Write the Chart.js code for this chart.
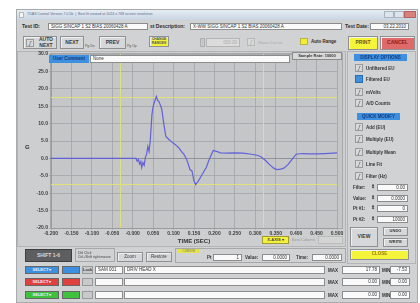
<!DOCTYPE html>
<html>
<head>
<meta charset="utf-8">
<script src="https://cdn.jsdelivr.net/npm/chart.js@4.4.0/dist/chart.umd.min.js"></script>
<style>
body{margin:0;width:420px;height:303px;background:#fff;position:relative;overflow:hidden;font-family:"Liberation Sans",Arial,sans-serif;}
.lbl{position:absolute;font-size:5px;font-weight:bold;color:#2e2e2e;white-space:nowrap;line-height:1;}
.inp{position:absolute;background:#fafafa;border:1px solid #8c8c8c;box-sizing:border-box;font-size:4.5px;color:#333;line-height:5px;padding:0 2px;white-space:nowrap;overflow:hidden;}
.btn{position:absolute;background:#d6d7d8;border:1px solid #8f9093;box-shadow:inset 1px 1px 0 #f0f0f0;box-sizing:border-box;font-size:5px;font-weight:bold;color:#3a3a3a;display:flex;align-items:center;justify-content:center;text-align:center;line-height:1.1;white-space:nowrap;}
.chk{position:absolute;width:8px;height:8px;background:#d9d9d9;border:1px solid #9a9a9a;box-sizing:border-box;font-size:6px;line-height:6px;text-align:center;color:#555;font-style:italic;}
.opt{position:absolute;font-size:4.5px;font-weight:bold;color:#333;white-space:nowrap;}
.hdr{position:absolute;background:#3d90e0;color:#153a7c;font-size:4.5px;font-weight:bold;text-align:center;line-height:7px;height:7px;}
.sel{position:absolute;height:8px;border:1px solid #666;box-sizing:border-box;font-size:4px;font-weight:bold;color:#eef;line-height:6px;text-align:center;}
</style>
</head>
<body>
<!-- window frame -->
<div style="position:absolute;left:16px;top:9px;width:402px;height:294px;background:#d1d2d3;border:1px solid #a9aaac;box-sizing:border-box;"></div>
<div style="position:absolute;left:17px;top:10px;width:400px;height:10px;background:linear-gradient(#e6ecf3,#c9d5e3);"></div>
<div style="position:absolute;left:19px;top:12px;width:5px;height:6px;background:#f4f4f4;border:1px solid #b8b8b8;box-sizing:border-box;"></div>
<div class="lbl" style="left:27px;top:13px;font-size:3.6px;font-weight:normal;color:#5b6f8e;">TDAS Control Version 7.0.5b &nbsp;|&nbsp; Best fit viewed at 1024 x 768 screen resolution</div>
<div style="position:absolute;left:384px;top:11px;width:10px;height:7px;background:#dde4ec;border:1px solid #aab4c0;box-sizing:border-box;"></div>
<div style="position:absolute;left:394px;top:11px;width:10px;height:7px;background:#dde4ec;border:1px solid #aab4c0;box-sizing:border-box;"></div>
<div style="position:absolute;left:404px;top:11px;width:12px;height:7px;background:#d9807a;border:1px solid #b06560;box-sizing:border-box;"></div>

<!-- row 1 -->
<div class="lbl" style="left:22px;top:24px;">Test ID:</div>
<div class="inp" style="left:48px;top:23px;width:100px;height:7px;">SIGG SINCAP 1 S2 BIAS 20060428 A</div>
<div class="lbl" style="left:150px;top:24px;">st Description:</div>
<div class="inp" style="left:190px;top:23px;width:152px;height:7px;">X-WW SIGG SINCAP 1 S2 BIAS 20060428 A</div>
<div class="lbl" style="left:345px;top:24px;">Test Date:</div>
<div class="inp" style="left:370px;top:23px;width:39px;height:7px;text-align:right;">03.22.2010</div>

<!-- row 2 -->
<div class="btn" style="left:23px;top:36px;width:34px;height:13px;justify-content:flex-end;padding-right:3px;">AUTO<br>NEXT</div>
<div class="chk" style="left:26px;top:39px;">ʃ</div>
<div class="btn" style="left:60px;top:36px;width:24px;height:13px;">NEXT</div>
<div class="lbl" style="left:85px;top:45px;font-size:3.5px;font-weight:normal;color:#555;">Pg Dn</div>
<div class="btn" style="left:99px;top:36px;width:27px;height:13px;">PREV</div>
<div class="lbl" style="left:127px;top:45px;font-size:3.5px;font-weight:normal;color:#555;">Pg Up</div>
<div class="btn" style="left:149px;top:36px;width:20px;height:11px;background:#f1f13e;font-size:3.4px;color:#555;">CHANGE<br>RANGES</div>
<div style="position:absolute;left:200px;top:38px;width:5px;height:9px;background:#c6c7c8;border:1px solid #b0b0b0;box-sizing:border-box;"></div>
<div class="inp" style="left:206px;top:38px;width:34px;height:9px;background:#dcdcdc;border-color:#b4b4b4;color:#aaa;text-align:right;line-height:7px;">000.00</div>
<div class="chk" style="left:247px;top:38px;color:#aaa;border-color:#b8b8b8;">ʃ</div>
<div class="lbl" style="left:258px;top:41px;font-size:4px;color:#b6b6b6;">Show Cursor</div>
<div style="position:absolute;left:300px;top:38px;width:8px;height:7px;background:#f0ee2e;border:1px solid #b8b440;box-sizing:border-box;"></div>
<div class="lbl" style="left:311px;top:40px;font-size:4.5px;">Auto Range</div>
<div class="btn" style="left:348px;top:36px;width:30px;height:14px;background:#f4f43a;color:#6a5a20;">PRINT</div>
<div class="btn" style="left:380px;top:36px;width:35px;height:14px;background:#e06a6a;color:#8a1c1c;">CANCEL</div>

<!-- chart panel -->
<div style="position:absolute;left:17px;top:51px;width:329px;height:196px;background:#cdcecf;border:1px solid #b3b4b6;box-sizing:border-box;"></div>
<div style="position:absolute;left:50px;top:53px;width:293px;height:176px;background:#c5c6c8;border:1px solid #a7a8aa;box-sizing:border-box;"></div>
<div style="position:absolute;left:16px;top:48px;width:330px;height:197px;">
  <canvas id="chart" width="330" height="197" style="width:330px;height:197px;"></canvas>
</div>
<div class="hdr" style="left:49px;top:55px;width:40px;height:8px;line-height:8px;">User Comment</div>
<div class="inp" style="left:90px;top:55px;width:200px;height:8px;line-height:6px;">None</div>
<div class="inp" style="left:292px;top:52px;width:50px;height:8px;background:#d9d9d9;font-size:4px;line-height:6px;text-align:center;font-weight:bold;">Sample Rate: 10000</div>
<div class="lbl" style="left:25px;top:144px;font-size:6px;">G</div>
<div class="sel" style="left:262px;top:236px;width:27px;background:#f1f13e;color:#444;border-color:#a09a30;">X-AXIS ▾</div>
<div class="lbl" style="left:292px;top:238px;font-size:4px;font-weight:normal;color:#9a9a9a;">Best Column</div>
<div style="position:absolute;left:318px;top:236px;width:25px;height:8px;background:#d4d4d4;border:1px solid #bcbcbc;box-sizing:border-box;"></div>

<!-- right panel -->
<div style="position:absolute;left:347px;top:51px;width:69px;height:213px;border:1px solid #b3b4b6;box-sizing:border-box;"></div>
<div class="hdr" style="left:354px;top:54px;width:53px;">DISPLAY OPTIONS</div>
<div class="chk" style="left:355px;top:64px;">ʃ</div><div class="opt" style="left:366px;top:66px;">Unfiltered EU</div>
<div class="chk" style="left:355px;top:75px;background:#3d90e0;border-color:#2a6cb0;"></div><div class="opt" style="left:366px;top:77px;">Filtered EU</div>
<div class="chk" style="left:355px;top:88px;">ʃ</div><div class="opt" style="left:366px;top:90px;">mVolts</div>
<div class="chk" style="left:355px;top:99px;">ʃ</div><div class="opt" style="left:366px;top:101px;">A/D Counts</div>
<div class="hdr" style="left:357px;top:113px;width:43px;">QUICK MODIFY</div>
<div class="chk" style="left:355px;top:123px;">ʃ</div><div class="opt" style="left:366px;top:125px;">Add (EU)</div>
<div class="chk" style="left:355px;top:135px;">ʃ</div><div class="opt" style="left:366px;top:137px;">Multiply (EU)</div>
<div class="chk" style="left:355px;top:148px;">ʃ</div><div class="opt" style="left:366px;top:150px;">Multiply Mean</div>
<div class="chk" style="left:355px;top:160px;">ʃ</div><div class="opt" style="left:366px;top:162px;">Line Fit</div>
<div class="chk" style="left:355px;top:172px;">ʃ</div><div class="opt" style="left:366px;top:174px;">Filter (Hz)</div>
<div class="opt" style="left:353px;top:185px;">Filter:</div><div class="lbl" style="left:371px;top:184px;font-size:5px;">⇕</div><div class="inp" style="left:377px;top:184px;width:31px;height:7px;text-align:right;">0.00</div>
<div class="opt" style="left:353px;top:196px;">Value:</div><div class="lbl" style="left:371px;top:195px;font-size:5px;">⇕</div><div class="inp" style="left:377px;top:195px;width:31px;height:7px;text-align:right;">0.0000</div>
<div class="opt" style="left:353px;top:206px;">Pt #1:</div><div class="lbl" style="left:371px;top:205px;font-size:5px;">⇕</div><div class="inp" style="left:377px;top:205px;width:31px;height:7px;text-align:right;">0</div>
<div class="opt" style="left:353px;top:217px;">Pt #2:</div><div class="lbl" style="left:371px;top:216px;font-size:5px;">⇕</div><div class="inp" style="left:377px;top:216px;width:31px;height:7px;text-align:right;">10000</div>
<div class="btn" style="left:350px;top:227px;width:28px;height:20px;">VIEW</div>
<div class="btn" style="left:383px;top:227px;width:25px;height:9px;font-size:4px;">UNDO</div>
<div class="btn" style="left:383px;top:238px;width:25px;height:9px;font-size:4px;">WRITE</div>
<div class="btn" style="left:350px;top:249px;width:59px;height:11px;background:#f4f43a;color:#9a7a10;font-size:4.5px;">CLOSE</div>

<!-- bottom strip -->
<div class="btn" style="left:25px;top:249px;width:47px;height:13px;background:#5d5e60;color:#d8d8d8;border-color:#3e3e3e;box-shadow:none;">SHIFT 1-6</div>
<div style="position:absolute;left:75px;top:248px;width:40px;height:14px;border:1px solid #a8a8a8;box-sizing:border-box;font-size:3.4px;color:#444;padding:2px;line-height:1.2;">Dbl Click<br>Ctrl+Shift right mouse</div>
<div class="btn" style="left:117px;top:252px;width:26px;height:10px;font-size:4.5px;font-weight:normal;">Zoom</div>
<div class="btn" style="left:146px;top:252px;width:26px;height:10px;font-size:4.5px;font-weight:normal;">Restore</div>
<div style="position:absolute;left:175px;top:248px;width:171px;height:15px;border:1px solid #a8a8a8;box-sizing:border-box;"></div>
<div style="position:absolute;left:178px;top:249px;width:22px;height:4px;background:#e4e44a;font-size:3px;line-height:4px;text-align:center;color:#777;">CURSOR</div>
<div class="opt" style="left:207px;top:255px;">Pt</div>
<div class="inp" style="left:213px;top:254px;width:29px;height:7px;text-align:right;">1</div>
<div class="opt" style="left:245px;top:255px;">Value:</div>
<div class="inp" style="left:262px;top:254px;width:28px;height:7px;text-align:right;">0.0000</div>
<div class="opt" style="left:296px;top:255px;">Time:</div>
<div class="inp" style="left:312px;top:254px;width:30px;height:7px;text-align:right;">0.0000</div>

<div class="sel" style="left:25px;top:266px;width:34px;background:#3d8fe0;">SELECT ▾</div>
<div class="sel" style="left:62px;top:266px;width:18px;background:#3d8fe0;"></div>
<div class="sel" style="left:82px;top:266px;width:11px;background:#c9c9c9;color:#444;border-color:#999;">Lock</div>
<div class="inp" style="left:95px;top:266px;width:28px;height:8px;line-height:6px;">SAM 001</div>
<div class="inp" style="left:124px;top:266px;width:201px;height:8px;line-height:6px;">DRIV HEAD X</div>
<div class="opt" style="left:328px;top:268px;">MAX</div>
<div class="inp" style="left:342px;top:266px;width:38px;height:8px;line-height:6px;text-align:right;">17.78</div>
<div class="opt" style="left:382px;top:268px;">MIN</div>
<div class="inp" style="left:390px;top:266px;width:20px;height:8px;line-height:6px;text-align:right;">-7.53</div>

<div class="sel" style="left:25px;top:278px;width:34px;background:#e0413e;">SELECT ▾</div>
<div class="sel" style="left:62px;top:278px;width:18px;background:#e0413e;"></div>
<div class="sel" style="left:82px;top:278px;width:11px;background:#c9c9c9;border-color:#999;"></div>
<div class="inp" style="left:95px;top:278px;width:28px;height:8px;"></div>
<div class="inp" style="left:124px;top:278px;width:201px;height:8px;"></div>
<div class="opt" style="left:328px;top:280px;">MAX</div>
<div class="inp" style="left:342px;top:278px;width:38px;height:8px;line-height:6px;text-align:right;">0.00</div>
<div class="opt" style="left:382px;top:280px;">MIN</div>
<div class="inp" style="left:390px;top:278px;width:20px;height:8px;line-height:6px;text-align:right;">0.00</div>

<div class="sel" style="left:25px;top:291px;width:34px;background:#3ec23e;">SELECT ▾</div>
<div class="sel" style="left:62px;top:291px;width:18px;background:#3ec23e;"></div>
<div class="sel" style="left:82px;top:291px;width:11px;background:#c9c9c9;border-color:#999;"></div>
<div class="inp" style="left:95px;top:291px;width:28px;height:8px;"></div>
<div class="inp" style="left:124px;top:291px;width:201px;height:8px;"></div>
<div class="opt" style="left:328px;top:293px;">MAX</div>
<div class="inp" style="left:342px;top:291px;width:38px;height:8px;line-height:6px;text-align:right;">0.00</div>
<div class="opt" style="left:382px;top:293px;">MIN</div>
<div class="inp" style="left:390px;top:291px;width:20px;height:8px;line-height:6px;text-align:right;">0.00</div>

<script>
// filtered EU trace (time in sec, G)
var times = [-0.200, 0.008, 0.011, 0.014, 0.017, 0.020, 0.022, 0.025, 0.028, 0.031, 0.034, 0.037, 0.040, 0.043, 0.047, 0.050,
    0.054, 0.058, 0.061, 0.064, 0.068, 0.071, 0.076, 0.081, 0.088, 0.094, 0.099, 0.106, 0.113, 0.119, 0.125, 0.131, 0.136,
    0.140, 0.145, 0.150, 0.154, 0.160, 0.166, 0.172, 0.180, 0.187, 0.197, 0.205, 0.215, 0.230, 0.250, 0.270, 0.290, 0.305,
    0.315, 0.325, 0.335, 0.345, 0.353, 0.362, 0.370, 0.380, 0.390, 0.400, 0.415, 0.430, 0.450, 0.470, 0.500];
var gValues = [0, 0, -0.8, -0.3, -1.6, -0.9, -2.6, -1.2, -2.0, 0.3, 1.2, 3.4, 2.0, 5.2, 12.5, 15.0,
    16.5, 17.8, 16.6, 16.4, 15.2, 14.2, 10.0, 6.3, 5.5, 4.9, 4.4, 3.8, 3.0, 2.0, 1.2, 0.0, -1.6,
    -3.2, -3.6, -6.5, -7.5, -6.6, -5.4, -4.2, -2.6, -0.4, 2.3, 2.0, 1.6, 1.5, 1.6, 1.5, 1.2, 0.9,
    0.4, -0.6, -1.8, -2.8, -3.2, -3.1, -2.8, -1.8, -0.3, 1.2, 1.4, 1.3, 1.3, 1.4, 1.6];
// axis ranges + tick steps
var timeRange = [-0.2, 0.5];
var timeStep = 0.05;
var gRange = [-20, 30];
var gStep = 2.5;
// yellow cursor lines
var cursorTimes = [-0.03, 0.32];
var limitValues = [17.5, -7.5];

var datasets = [{
    data: times.map(function(t, i) { return {x: t, y: gValues[i]}; }),
    borderColor: "#6262d8",
    borderWidth: 1.2,
    pointRadius: 0,
    order: 0
}];
for (var c of cursorTimes) {
    datasets.push({data: [{x: c, y: gRange[0]}, {x: c, y: gRange[1]}], borderColor: "#e2e07a", borderWidth: 1, pointRadius: 0, order: 2});
}
for (var l of limitValues) {
    datasets.push({data: [{x: timeRange[0], y: l}, {x: timeRange[1], y: l}], borderColor: "#e2e07a", borderWidth: 1, pointRadius: 0, order: 2});
}

var tickFont = {family: "Liberation Sans", size: 5, weight: "bold"};

new Chart(document.getElementById("chart"), {
    type: "line",
    data: {datasets: datasets},
    options: {
        responsive: false,
        animation: false,
        devicePixelRatio: 1,
        layout: {padding: {top: 6, right: 9, left: 0, bottom: 0}},
        plugins: {legend: {display: false}, tooltip: {enabled: false}},
        scales: {
            x: {
                type: "linear",
                min: timeRange[0],
                max: timeRange[1],
                afterFit: function(s) { s.height = 17; },
                ticks: {stepSize: timeStep, autoSkip: false, maxRotation: 0, padding: 1, font: tickFont, color: "#3c3c3c",
                    callback: function(v) { return v.toFixed(3); }},
                grid: {color: "#a2a4a7", lineWidth: 0.8, tickLength: 2},
                border: {color: "#9a9b9e"},
                title: {display: true, text: "TIME (SEC)", font: {family: "Liberation Sans", size: 6, weight: "bold"}, color: "#333", padding: 0}
            },
            y: {
                min: gRange[0],
                max: gRange[1],
                afterFit: function(s) { s.width = 35; },
                ticks: {stepSize: gStep, padding: 1, font: tickFont, color: "#3c3c3c",
                    callback: function(v) { return v.toFixed(1); }},
                grid: {
                    color: function(ctx) { return ctx.tick && ctx.tick.value === 0 ? "#85878b" : "#a2a4a7"; },
                    borderDash: function(ctx) { return ctx.tick && ctx.tick.value === 0 ? [2, 2] : []; },
                    lineWidth: 0.8,
                    tickLength: 2
                },
                border: {color: "#9a9b9e"}
            }
        }
    }
});
</script>
</body>
</html>
